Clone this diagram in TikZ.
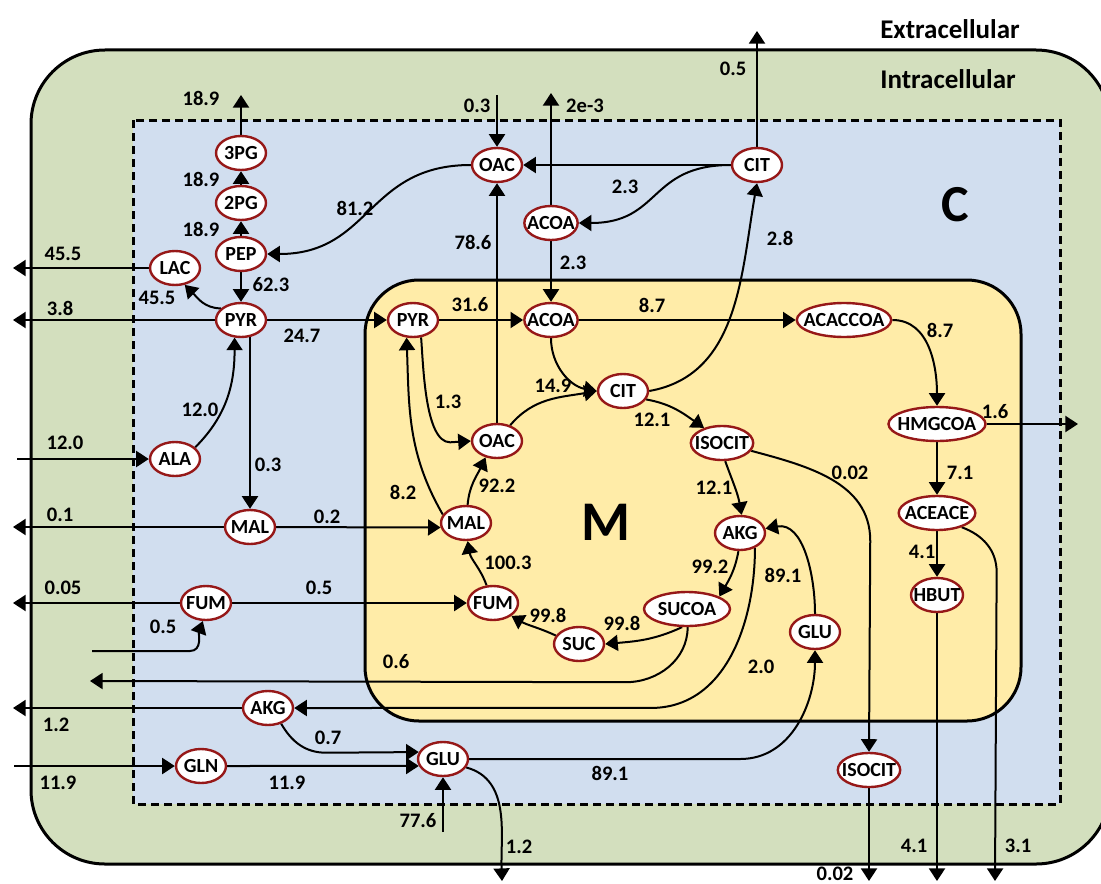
\documentclass[tikz,border=0pt]{standalone}
\usepackage{fontspec}
\setmainfont{Carlito}
\usetikzlibrary{shapes.geometric,arrows.meta}
\definecolor{cellgreen}{RGB}{211,223,190}
\definecolor{cytoblue}{RGB}{209,222,239}
\definecolor{mitoyellow}{RGB}{255,236,168}
\definecolor{metred}{RGB}{150,24,24}
\pgfdeclarelayer{boxes}
\pgfdeclarelayer{edges}
\pgfsetlayers{boxes,edges,main}
\tikzset{
  met/.style={ellipse, draw=metred, fill=white, line width=1.2pt,
    inner xsep=-2.5pt, inner ysep=0pt, minimum width=25pt, minimum height=17pt,
    font=\fontsize{10}{11}\selectfont\bfseries},
  flux/.style={-{Triangle[length=6.3pt,width=8pt]}, line width=1pt},
  lbl/.style={inner sep=0pt, font=\fontsize{10.3}{12}\selectfont\bfseries},
}
\begin{document}
\begin{tikzpicture}[x=0.5pt,y=-0.5pt]
\useasboundingbox (0,0) rectangle (1101,883);
\begin{pgfonlayer}{boxes}
  \fill[white] (0,0) rectangle (1101,883);
  \draw[line width=1.5pt, fill=cellgreen, rounded corners=37pt] (31,50) rectangle (1110,864);
  \draw[line width=1.5pt, fill=cytoblue, dash pattern=on 4pt off 2.5pt] (133,120) rectangle (1060,804);
  \draw[line width=1.5pt, fill=mitoyellow, rounded corners=27pt] (365,280) rectangle (1021,721);
\end{pgfonlayer}

\node[lbl, font=\fontsize{13.5}{15}\selectfont\bfseries] (extra) at (950,29) {Extracellular};
\node[lbl, font=\fontsize{13.5}{15}\selectfont\bfseries] (intra) at (948,79) {Intracellular};
\node[lbl, font=\fontsize{26}{28}\selectfont\bfseries] (cyto) at (955,205) {C};
\node[lbl, font=\fontsize{28}{30}\selectfont\bfseries] (mito) at (606,522) {M};

% cytosol
\node[met] (c3pg) at (241,153) {3PG};
\node[met] (c2pg) at (241,203) {2PG};
\node[met] (cpep) at (241,254) {PEP};
\node[met] (clac) at (175,268) {LAC};
\node[met] (cpyr) at (241,320) {PYR};
\node[met] (cala) at (175,459) {ALA};
\node[met] (cmal) at (250,527) {MAL};
\node[met] (cfum) at (206,603) {FUM};
\node[met] (cakg) at (268,708) {AKG};
\node[met] (cgln) at (201,766) {GLN};
\node[met] (cglu) at (443,759) {GLU};
\node[met] (coac) at (497,165) {OAC};
\node[met] (cacoa) at (551,223) {ACOA};
\node[met] (ccit) at (757,165) {CIT};
\node[met] (cisocit) at (869,770) {ISOCIT};

% mitochondria
\node[met] (mpyr) at (413,320) {PYR};
\node[met] (macoa) at (551,320) {ACOA};
\node[met, inner xsep=-3.5pt] (macaccoa) at (844,320) {ACACCOA};
\node[met] (mcit) at (623,391) {CIT};
\node[met] (moac) at (497,441) {OAC};
\node[met] (misocit) at (722,443) {ISOCIT};
\node[met] (mhmgcoa) at (937,424) {HMGCOA};
\node[met] (mmal) at (466,523) {MAL};
\node[met] (makg) at (740,533) {AKG};
\node[met] (maceace) at (937,513) {ACEACE};
\node[met] (mfum) at (493,603) {FUM};
\node[met, minimum width=43pt] (msucoa) at (687,609) {SUCOA};
\node[met] (msuc) at (579,644) {SUC};
\node[met] (mglu) at (815,632) {GLU};
\node[met] (mhbut) at (937,595) {HBUT};

\coordinate (o3pg) at (241,95);
\coordinate (olac) at (13,268);
\coordinate (opyr) at (13,320);
\coordinate (iala) at (17,459);
\coordinate (omal) at (13,527);
\coordinate (ofum) at (13,603);
\coordinate (ifum) at (92,651);
\coordinate (o06) at (90,681);
\coordinate (oakg) at (13,708);
\coordinate (igln) at (14,766);
\coordinate (iglu) at (443,832);
\coordinate (oglu) at (502,881);
\coordinate (ioac) at (497,95);
\coordinate (oacoa) at (551,93);
\coordinate (ocit) at (757,31);
\coordinate (ohmg) at (1078,424);
\coordinate (oace) at (995,881);
\coordinate (ohbut) at (937,881);
\coordinate (oisocit) at (869,881);

\begin{pgfonlayer}{edges}
\draw[flux] (c3pg) -- (o3pg);
\draw[flux] (c2pg) -- (c3pg.south);
\draw[flux] (cpep) -- (c2pg.south);
\draw[flux] (cpep) -- (cpyr.north);
\draw[flux] (cpyr.150) to[out=180,in=-45] (clac.-60);
\draw[flux] (clac) -- (olac);
\draw[flux] (cpyr) -- (opyr);
\draw[flux] (cpyr) -- (mpyr.west);
\draw[flux] (iala) -- (cala.west);
\draw[flux] (cala.30) to[out=45,in=-90] (cpyr.-110);
\draw[flux] (cpyr.center -| cmal.north) -- (cmal.north);
\draw[flux] (cmal) -- (omal);
\draw[flux] (cmal) -- (mmal.190);
\draw[flux] (cfum) -- (ofum);
\draw[flux] (cfum) -- (mfum.west);
\draw[flux] (ifum) -- ++(98,0) to[out=0,in=-110] (cfum.-100);
\draw[flux] (msucoa.-88) to[out=-90,in=0] ++(-62,55) -- (o06);
\draw[flux] (makg.-45) to[out=-90,in=0] ++(-104,160) -- (cakg.east);
\draw[flux] (cakg) -- (oakg);
\draw[flux] (cakg.-50) to[out=-60,in=180] ++(45,29) -- (cglu.164);
\draw[flux] (igln) -- (cgln.west);
\draw[flux] (cgln) -- (cglu.-164);
\draw[flux] (iglu) -- (cglu.south);
\draw[flux] (cglu.-20) to[out=-15,in=92] (oglu);
\draw[flux] (cglu.east) -- ++(271,0) to[out=0,in=-90] (mglu.south);
\draw[flux] (ioac) -- (coac.north);
\draw[flux] (cacoa) -- (oacoa);
\draw[flux] (ccit) -- (ocit);
\draw[flux] (ccit) -- (coac.east);
\draw[flux] (ccit.west) to[out=180,in=0,looseness=1.3] (cacoa.east);
\draw[flux] (coac.west) to[out=180,in=0,looseness=1.2] (cpep.east);
\draw[flux] (moac) -- (coac.south);
\draw[flux] (cacoa) -- (macoa.north);
\draw[flux] (mcit.east) to[out=10,in=-100] (ccit.south);
\draw[flux] (mpyr) -- (macoa.west);
\draw[flux] (macoa) -- (macaccoa.west);
\draw[flux] (macaccoa.east) to[out=0,in=90] (mhmgcoa.north);
\draw[flux] (mhmgcoa) -- (ohmg);
\draw[flux] (mhmgcoa) -- (maceace.north);
\draw[flux] (maceace) -- (mhbut.north);
\draw[flux] (mhbut) -- (ohbut);
\draw[flux] (maceace.-30) to[out=-20,in=90] ++(35,45) -- (oace);
\draw[flux] (misocit.-15) to[out=-15,in=90] ++(119,90) -- (cisocit.north);
\draw[flux] (cisocit) -- (oisocit);
\draw[flux] (mpyr.-65) to[out=-85,in=180,looseness=0.6] ++(29,105) -- (moac.west);
\draw[flux] (mmal.160) to[out=120,in=-88] (mpyr.-110);
\draw[flux] (macoa.south) to[out=-90,in=170] (mcit.west);
\draw[flux] (moac.50) to[out=50,in=190] (mcit.west);
\draw[flux] (mcit.-20) to[out=-10,in=145] (misocit.140);
\draw[flux] (misocit.-80) to[out=-70,in=100] (makg.85);
\draw[flux] (makg.-95) to[out=-100,in=60] (msucoa.21);
\draw[flux] (msucoa.-105) to[out=-155,in=5] (msuc.east);
\draw[flux] (msuc.160) to[out=155,in=-30] (mfum.-35);
\draw[flux] (mfum.110) to[out=110,in=-80] (mmal.-85);
\draw[flux] (mmal.85) to[out=85,in=-115] (moac.-125);
\draw[flux] (mglu.north) to[out=90,in=10] (makg.10);
\end{pgfonlayer}

\node[lbl] (v3pg) at (201,98) {18.9};
\node[lbl] (v2pg) at (201,179) {18.9};
\node[lbl] (vpep) at (201,229) {18.9};
\node[lbl] (vpyrpep) at (271,285) {62.3};
\node[lbl] (vlacout) at (63,254) {45.5};
\node[lbl] (vlac) at (157,298) {45.5};
\node[lbl] (vpyrout) at (60,308) {3.8};
\node[lbl] (vpyrm) at (302,336) {24.7};
\node[lbl] (vala) at (200,410) {12.0};
\node[lbl] (valain) at (65,443) {12.0};
\node[lbl] (vmalc) at (268,465) {0.3};
\node[lbl] (vmalout) at (60,515) {0.1};
\node[lbl] (vmalm) at (327,517) {0.2};
\node[lbl] (vfumout) at (63,588) {0.05};
\node[lbl] (vfumm) at (319,588) {0.5};
\node[lbl] (vfumin) at (163,627) {0.5};
\node[lbl] (vsucout) at (396,662) {0.6};
\node[lbl] (vakgout) at (56,725) {1.2};
\node[lbl] (vakgglu) at (328,738) {0.7};
\node[lbl] (vglnin) at (58,783) {11.9};
\node[lbl] (vgln) at (287,783) {11.9};
\node[lbl] (vgluin) at (418,821) {77.6};
\node[lbl] (vgluout) at (519,847) {1.2};
\node[lbl] (vglum) at (610,773) {89.1};
\node[lbl] (vakgm) at (783,575) {89.1};
\node[lbl] (vakgc) at (761,667) {2.0};
\node[lbl] (voacin) at (477,106) {0.3};
\node[lbl] (vacoaout) at (585,106) {2e-3};
\node[lbl] (vcitout) at (733,69) {0.5};
\node[lbl] (vcitacoa) at (625,187) {2.3};
\node[lbl] (vacoam) at (573,263) {2.3};
\node[lbl] (voacpep) at (355,208) {81.2};
\node[lbl] (voacm) at (473,242) {78.6};
\node[lbl] (vcitc) at (780,238) {2.8};
\node[lbl] (vpyracoa) at (470,305) {31.6};
\node[lbl] (vacac) at (652,305) {8.7};
\node[lbl] (vhmg) at (940,330) {8.7};
\node[lbl] (vcit) at (553,386) {14.9};
\node[lbl] (visocit) at (652,420) {12.1};
\node[lbl] (vakg) at (714,488) {12.1};
\node[lbl] (vpyroac) at (448,402) {1.3};
\node[lbl] (vmalpyr) at (403,492) {8.2};
\node[lbl] (vmaloac) at (497,486) {92.2};
\node[lbl] (vfummal) at (508,563) {100.3};
\node[lbl] (vsucfum) at (548,615) {99.8};
\node[lbl] (vsucoasuc) at (622,623) {99.8};
\node[lbl] (vakgsucoa) at (710,567) {99.2};
\node[lbl] (visocitc) at (850,473) {0.02};
\node[lbl] (visocitout) at (835,874) {0.02};
\node[lbl] (vhmgout) at (995,412) {1.6};
\node[lbl] (vaceace) at (960,473) {7.1};
\node[lbl] (vhbut) at (922,552) {4.1};
\node[lbl] (vhbutout) at (914,846) {4.1};
\node[lbl] (vaceout) at (1018,846) {3.1};
\end{tikzpicture}
\end{document}
